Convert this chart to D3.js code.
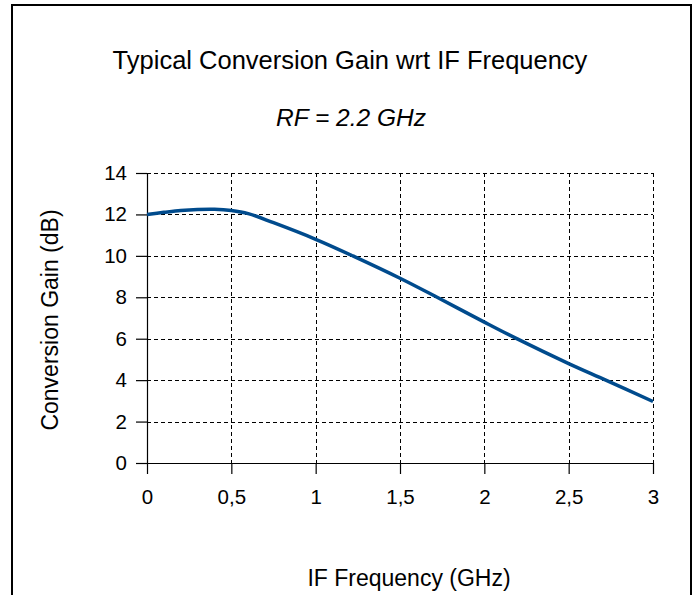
<!DOCTYPE html>
<html>
<head>
<meta charset="utf-8">
<script src="https://cdn.jsdelivr.net/npm/d3@7"></script>
<style>
  body { margin: 0; background: #fff; }
  text { font-family: "Liberation Sans", Arial, sans-serif; fill: #000; }
</style>
</head>
<body>
<div id="chart"></div>
<script>
// values
var freq = [0, 0.1, 0.2, 0.3, 0.4, 0.5, 0.6, 0.75, 1.0, 1.22, 1.5, 1.72, 2.0, 2.18, 2.5, 2.72, 3.0];
var gain = [12.0, 12.1, 12.19, 12.24, 12.25, 12.19, 12.04, 11.6, 10.8, 10.0, 8.92, 8.0, 6.8, 6.05, 4.8, 4.0, 2.97];
var xTicks = [0, 0.5, 1, 1.5, 2, 2.5, 3];
var yTicks = [0, 2, 4, 6, 8, 10, 12, 14];

var W = 699, H = 595;
var margin = {top: 173, right: 46, bottom: 132, left: 147},
    width = 653 - margin.left,
    height = 463 - margin.top;

var root = d3.select("#chart")
  .append("svg")
    .attr("width", W)
    .attr("height", H);

// outer frame
root.append("rect")
  .attr("x", 12).attr("y", 5)
  .attr("width", 679).attr("height", 620)
  .attr("fill", "none")
  .attr("stroke", "#000")
  .attr("stroke-width", 2);

root.append("text")
  .attr("x", 350).attr("y", 69)
  .attr("text-anchor", "middle")
  .style("font-size", "25.5px")
  .text("Typical Conversion Gain wrt IF Frequency");

root.append("text")
  .attr("x", 351).attr("y", 126)
  .attr("text-anchor", "middle")
  .style("font-size", "24.5px")
  .style("font-style", "italic")
  .text("RF = 2.2 GHz");

var svg = root.append("g")
  .attr("transform", "translate(" + margin.left + "," + margin.top + ")");

var x = d3.scaleLinear().domain([0, 3]).range([0, width]);
var y = d3.scaleLinear().domain([0, 14]).range([height, 0]);

// grid
svg.append("g")
  .selectAll("line.h")
  .data(yTicks.slice(1))
  .enter().append("line")
    .attr("x1", 0).attr("x2", width)
    .attr("y1", function(d) { return Math.round(y(d)) + 0.5; })
    .attr("y2", function(d) { return Math.round(y(d)) + 0.5; })
    .attr("stroke", "#000")
    .attr("stroke-dasharray", "4,3");

svg.append("g")
  .selectAll("line.v")
  .data(xTicks.slice(1))
  .enter().append("line")
    .attr("y1", 0).attr("y2", height)
    .attr("x1", function(d) { return Math.round(x(d)) + 0.5; })
    .attr("x2", function(d) { return Math.round(x(d)) + 0.5; })
    .attr("stroke", "#000")
    .attr("stroke-dasharray", "4,3");

var fmt = function(d) { return String(d).replace(".", ","); };

var xAxis = svg.append("g")
  .attr("transform", "translate(0," + height + ")")
  .call(d3.axisBottom(x).tickValues(xTicks).tickFormat(fmt).tickSize(11).tickSizeOuter(0).tickPadding(15));

var yAxis = svg.append("g")
  .call(d3.axisLeft(y).tickValues(yTicks).tickSize(11).tickSizeOuter(0).tickPadding(9));

[xAxis, yAxis].forEach(function(a) {
  a.select(".domain").attr("stroke", "#000").attr("stroke-width", 1.2);
  a.selectAll(".tick line").attr("stroke", "#000").attr("stroke-width", 1.2);
  a.selectAll(".tick text")
    .style("font-size", "20.5px")
    .style("font-family", "'Liberation Sans', Arial, sans-serif")
    .attr("fill", "#000");
});

// curve
var line = d3.line()
  .x(function(d, i) { return x(freq[i]); })
  .y(function(d) { return y(d); })
  .curve(d3.curveCatmullRom.alpha(0.5));

svg.append("path")
  .datum(gain)
  .attr("fill", "none")
  .attr("stroke", "#004B8D")
  .attr("stroke-width", 3.5)
  .attr("stroke-linejoin", "round")
  .attr("d", line);

// axis titles
root.append("text")
  .attr("x", 409).attr("y", 586)
  .attr("text-anchor", "middle")
  .style("font-size", "23px")
  .text("IF Frequency (GHz)");

root.append("text")
  .attr("transform", "translate(58,320) rotate(-90)")
  .attr("text-anchor", "middle")
  .style("font-size", "23px")
  .text("Conversion Gain (dB)");
</script>
</body>
</html>
